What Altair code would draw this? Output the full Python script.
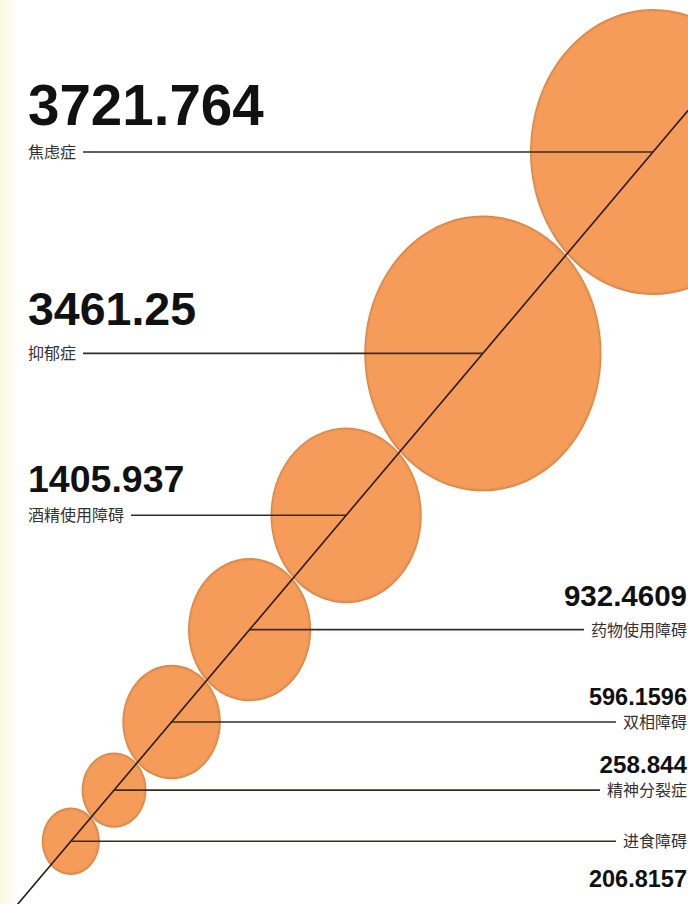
import altair as alt
import numpy as np
import pandas as pd

# ---------------- data ----------------
categories = ["焦虑症", "抑郁症", "酒精使用障碍", "药物使用障碍", "双相障碍", "精神分裂症", "进食障碍"]
values = [3721.764, 3461.25, 1405.937, 932.4609, 596.1596, 258.844, 206.8157]
value_labels = ["3721.764", "3461.25", "1405.937", "932.4609", "596.1596", "258.844", "206.8157"]

# ---------------- layout / style ----------------
W, H = 688, 904
ANCHOR_X, ANCHOR_Y = 653.0, 152.0      # centre of the largest bubble
ANG = np.arctan(1.184)                  # direction of the chain of bubbles
MAX_RY = 143.0                          # vertical radius of the largest bubble
ASPECT = 0.86                           # width / height of each bubble
GAP = 1.005
label_side = ["left", "left", "left", "right", "right", "right", "right"]
num_size = [56.5, 46.5, 37.5, 29.5, 23.5, 24.2, 23.5]
num_dy = [-27, -28, -23, -24, -17, -17, 46]
LBL_SIZE = 16
LEFT_X, RIGHT_X = 28, 687
NUM_FONT = "Liberation Sans, Arial, Helvetica"
CJK_FONT = "Noto Sans CJK SC"
ELLIPSE = f"M-{ASPECT},0A{ASPECT},1,0,1,0,{ASPECT},0A{ASPECT},1,0,1,0,-{ASPECT},0Z"

v = np.array(values)
ry = MAX_RY * np.sqrt(v / v.max())
c, s = np.cos(ANG), np.sin(ANG)
k = 1.0 / np.sqrt(c ** 2 / ASPECT ** 2 + s ** 2)
rd = ry * k
cx, cy = [ANCHOR_X], [ANCHOR_Y]
for i in range(1, len(v)):
    d = (rd[i - 1] + rd[i]) * GAP
    cx.append(cx[-1] - d * c)
    cy.append(cy[-1] + d * s)

df = pd.DataFrame({"cat": categories, "val": value_labels, "cx": cx, "cy": cy, "side": label_side,
                   "ns": num_size})
df["s0"] = (2 * ry) ** 2
df["s1"] = (2 * (ry - 1.4)) ** 2
df["s2"] = (2 * (ry - 2.8)) ** 2
nchar = df["cat"].str.len()
df["tx"] = np.where(df["side"] == "left", LEFT_X, RIGHT_X)
df["ny"] = df["cy"] + np.array(num_dy)
df["lx1"] = np.where(df["side"] == "left", LEFT_X + nchar * LBL_SIZE + 7, df["cx"])
df["lx2"] = np.where(df["side"] == "left", df["cx"], RIGHT_X - nchar * LBL_SIZE - 7)

xs = alt.Scale(domain=[0, W], range=[0, W], nice=False, zero=False)
ys = alt.Scale(domain=[0, H], range=[0, H], nice=False, zero=False)
X = lambda f: alt.X(f"{f}:Q", scale=xs, axis=None)
Y = lambda f: alt.Y(f"{f}:Q", scale=ys, axis=None)

base = alt.Chart(df)

strip = alt.Chart(pd.DataFrame({"a": [0]})).mark_rect(
    fill=alt.LinearGradient(gradient="linear",
                            stops=[alt.GradientStop(offset=0, color="#fbf8df"),
                                   alt.GradientStop(offset=1, color="#ffffff")],
                            x1=0, x2=1, y1=0, y2=0)
).encode(x=alt.value(0), x2=alt.value(18), y=alt.value(0), y2=alt.value(H))


def ell(col, color):
    return base.mark_point(shape=ELLIPSE, filled=True, color=color, opacity=1, strokeWidth=0).encode(
        x=X("cx"), y=Y("cy"), size=alt.Size(f"{col}:Q", scale=None, legend=None))


bubbles = ell("s0", "#dc8745") + ell("s1", "#ec9453") + ell("s2", "#f69c5a")

# diagonal line through all centres
t_top, t_bot = 140, 110
diag = alt.Chart(pd.DataFrame({
    "x": [cx[0] + t_top * c], "y": [cy[0] - t_top * s],
    "x2": [cx[-1] - t_bot * c], "y2": [cy[-1] + t_bot * s]})).mark_rule(
    color="#2a1c14", strokeWidth=1.6).encode(x=X("x"), y=Y("y"), x2="x2:Q", y2="y2:Q")

connectors = base.mark_rule(color="#3a2a20", strokeWidth=1.6).encode(
    x=X("lx1"), x2="lx2:Q", y=Y("cy"))

num_left = base.transform_filter("datum.side == 'left'").mark_text(
    font=NUM_FONT, fontWeight="bold", align="left", baseline="alphabetic", color="#111111").encode(
    x=X("tx"), y=Y("ny"), text="val:N", size=alt.Size("ns:Q", scale=None, legend=None))
num_right = base.transform_filter("datum.side == 'right'").mark_text(
    font=NUM_FONT, fontWeight="bold", align="right", baseline="alphabetic", color="#111111").encode(
    x=X("tx"), y=Y("ny"), text="val:N", size=alt.Size("ns:Q", scale=None, legend=None))

lbl_left = base.transform_filter("datum.side == 'left'").mark_text(
    font=CJK_FONT, fontSize=LBL_SIZE, align="left", baseline="middle", color="#333333", dy=1).encode(
    x=X("tx"), y=Y("cy"), text="cat:N")
lbl_right = base.transform_filter("datum.side == 'right'").mark_text(
    font=CJK_FONT, fontSize=LBL_SIZE, align="right", baseline="middle", color="#333333", dy=1).encode(
    x=X("tx"), y=Y("cy"), text="cat:N")

chart = alt.layer(strip, bubbles, diag, connectors, num_left, num_right, lbl_left, lbl_right).properties(
    width=W, height=H, padding=0, autosize="none", background="#ffffff"
).configure_view(strokeWidth=0)

chart.save("out.html", embed_options={"renderer": "svg", "actions": False})
